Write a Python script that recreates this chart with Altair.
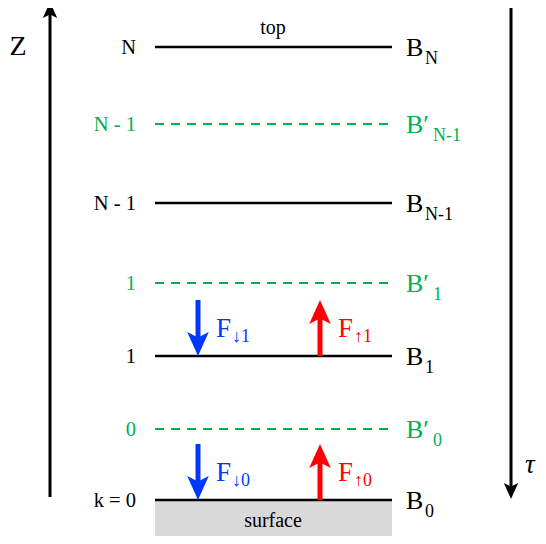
import altair as alt
import pandas as pd

# ---- data ----
level_y = [47, 124, 203, 283, 356, 429, 500]
level_kind = ["solid", "dashed", "solid", "dashed", "solid", "dashed", "solid"]
left_labels = ["N", "N - 1", "N - 1", "1", "1", "0", "k = 0"]
right_main = ["B", "B′", "B", "B′", "B", "B′", "B"]
right_sub = ["N", "N-1", "N-1", "1", "1", "0", "0"]

flux_x = [198, 320, 198, 320]
flux_tail = [300, 356, 444, 500]
flux_tip = [356, 300, 500, 444]
flux_dir = ["down", "up", "down", "up"]
flux_sub = ["↓1", "↑1", "↓0", "↑0"]

GREEN = "#00b050"
BLUE = "#0038ff"
RED = "#ff0000"
FONT = "Liberation Serif"

W, H = 530, 528
X0, X1 = 155, 392
xs = alt.Scale(domain=[8, 8 + W], nice=False, zero=False)
ys = alt.Scale(domain=[8, 8 + H], nice=False, zero=False, reverse=True)

def X(f):
    return alt.X(f, type="quantitative", scale=xs, axis=None)

def Y(f):
    return alt.Y(f, type="quantitative", scale=ys, axis=None)

lev = pd.DataFrame({
    "y": level_y,
    "kind": level_kind,
    "left": left_labels,
    "main": right_main,
    "sub": right_sub,
})
lev["x0"] = X0
lev["x1"] = X1
lev["color"] = [("black" if k == "solid" else GREEN) for k in level_kind]
lev["ylab"] = lev["y"] + 7
lev["ymain"] = lev["y"] + 9
lev["ysub"] = lev["y"] + 17
lev["xlab"] = 136
lev["xmain"] = 406
lev["xsub"] = [425 if m == "B" else 433 for m in right_main]

solid = lev[lev.kind == "solid"]
dashed = lev[lev.kind == "dashed"]

surface = pd.DataFrame({"x0": [X0], "x1": [X1], "y0": [500], "y1": [545]})
surf_rect = alt.Chart(surface).mark_rect(color="#d9d9d9").encode(
    x=X("x0"), x2="x1", y=Y("y0"), y2="y1")

solid_lines = alt.Chart(solid).mark_rule(color="black", strokeWidth=2.5).encode(
    x=X("x0"), x2="x1", y=Y("y"))
dashed_lines = alt.Chart(dashed).mark_rule(color=GREEN, strokeWidth=2.2, strokeDash=[9, 7]).encode(
    x=X("x0"), x2="x1", y=Y("y"))

color_enc = alt.Color("color:N", scale=None)

left_txt = alt.Chart(lev).mark_text(font=FONT, fontSize=20.5, align="right", baseline="alphabetic").encode(
    x=X("xlab"), y=Y("ylab"), text="left:N", color=color_enc)
main_txt = alt.Chart(lev).mark_text(font=FONT, fontSize=26, align="left", baseline="alphabetic").encode(
    x=X("xmain"), y=Y("ymain"), text="main:N", color=color_enc)
sub_txt = alt.Chart(lev).mark_text(font=FONT, fontSize=18, align="left", baseline="alphabetic").encode(
    x=X("xsub"), y=Y("ysub"), text="sub:N", color=color_enc)

# captions
cap = pd.DataFrame({"x": [273, 273], "y": [34, 527], "t": ["top", "surface"]})
cap_txt = alt.Chart(cap).mark_text(font=FONT, fontSize=20, align="center", baseline="alphabetic").encode(
    x=X("x"), y=Y("y"), text="t:N")

# axes arrows
axes = pd.DataFrame({
    "x": [50, 511],
    "y0": [497, 5],
    "y1": [12, 488],
})
axes_rules = alt.Chart(axes).mark_rule(color="black", strokeWidth=3).encode(
    x=X("x"), y=Y("y0"), y2="y1")

UP = "M0,-1 L0.9,1 L0,0.55 L-0.9,1 Z"
DOWN = "M0,1 L0.9,-1 L0,-0.55 L-0.9,-1 Z"

ax_heads = pd.DataFrame({"x": [50, 511], "y": [10, 491], "dir": ["up", "down"]})
ax_head_up = alt.Chart(ax_heads[ax_heads.dir == "up"]).mark_point(
    shape=UP, size=256, filled=True, color="black", opacity=1, strokeWidth=0).encode(x=X("x"), y=Y("y"))
ax_head_dn = alt.Chart(ax_heads[ax_heads.dir == "down"]).mark_point(
    shape=DOWN, size=256, filled=True, color="black", opacity=1, strokeWidth=0).encode(x=X("x"), y=Y("y"))

axlab = pd.DataFrame({"x": [18, 525], "y": [55, 473], "t": ["Z", "τ"]})
z_txt = alt.Chart(axlab[axlab.t == "Z"]).mark_text(font=FONT, fontSize=28, align="center", baseline="alphabetic").encode(
    x=X("x"), y=Y("y"), text="t:N")
tau_txt = alt.Chart(axlab[axlab.t == "τ"]).mark_text(font=FONT, fontSize=27, fontStyle="italic", align="left", baseline="alphabetic").encode(
    x=X("x"), y=Y("y"), text="t:N")

# flux arrows
fl = pd.DataFrame({"x": flux_x, "tail": flux_tail, "tip": flux_tip, "dir": flux_dir, "sub": flux_sub})
fl["color"] = [BLUE if d == "down" else RED for d in flux_dir]
fl["shaft_end"] = [t - 14 if d == "down" else t + 14 for t, d in zip(flux_tip, flux_dir)]
fl["head"] = [t - 12 if d == "down" else t + 12 for t, d in zip(flux_tip, flux_dir)]
fl["F"] = "F"
fl["xF"] = [x + 18 for x in flux_x]
fl["xs"] = [x + 34 for x in flux_x]
fl["yF"] = [max(a, b) - 19 for a, b in zip(flux_tail, flux_tip)]
fl["ys"] = [max(a, b) - 14 for a, b in zip(flux_tail, flux_tip)]

shafts = alt.Chart(fl).mark_rule(strokeWidth=5).encode(
    x=X("x"), y=Y("tail"), y2="shaft_end", color=color_enc)
heads_dn = alt.Chart(fl[fl.dir == "down"]).mark_point(
    shape=DOWN, size=576, filled=True, opacity=1, strokeWidth=0).encode(x=X("x"), y=Y("head"), color=color_enc)
heads_up = alt.Chart(fl[fl.dir == "up"]).mark_point(
    shape=UP, size=576, filled=True, opacity=1, strokeWidth=0).encode(x=X("x"), y=Y("head"), color=color_enc)
F_txt = alt.Chart(fl).mark_text(font=FONT, fontSize=27, align="left", baseline="alphabetic").encode(
    x=X("xF"), y=Y("yF"), text="F:N", color=color_enc)
Fs_txt = alt.Chart(fl).mark_text(font=FONT, fontSize=18, align="left", baseline="alphabetic").encode(
    x=X("xs"), y=Y("ys"), text="sub:N", color=color_enc)

chart = alt.layer(
    surf_rect, solid_lines, dashed_lines, left_txt, main_txt, sub_txt, cap_txt,
    axes_rules, ax_head_up, ax_head_dn, z_txt, tau_txt,
    shafts, heads_dn, heads_up, F_txt, Fs_txt,
).properties(
    width=W, height=H, padding=0, autosize="none", background="white"
).configure_view(stroke=None)

chart.save("out.html", embed_options={"renderer": "svg", "actions": False})
